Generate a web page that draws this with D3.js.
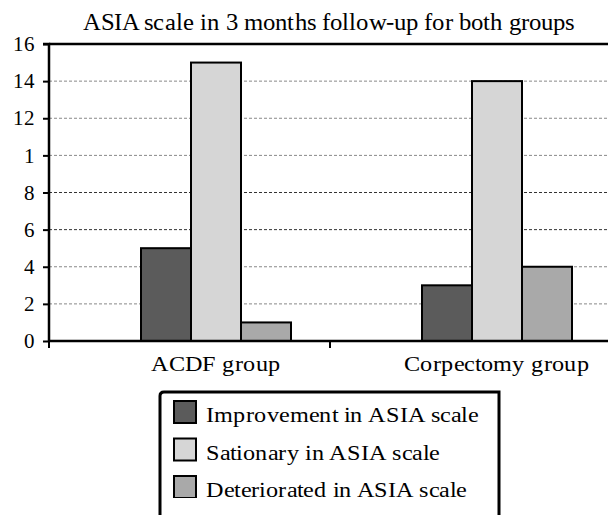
<!DOCTYPE html>
<html><head><meta charset="utf-8">
<script src="https://cdn.jsdelivr.net/npm/d3@7"></script>
<style>
@font-face{font-family:"RefSerif";src:local("Liberation Serif"),local("LiberationSerif"),local("LiberationSerif-Regular"),local("Liberation Serif Regular"),local("DejaVu Serif"),local("DejaVuSerif"),local("Times New Roman"),local("Tinos"),local("Tinos-Regular");}
body{margin:0;background:#fff}svg{display:block}
</style>
</head><body><div id="c"></div>
<script>
const title = "ASIA scale in 3 months follow-up for both groups";
const groups = ["ACDF group", "Corpectomy group"];
const series = ["Improvement in ASIA scale", "Sationary in ASIA scale", "Deteriorated in ASIA scale"];
const improvement = [5, 3];
const stationary = [15, 14];
const deteriorated = [1, 4];
const tickValues = [0, 2, 4, 6, 8, 10, 12, 14, 16];
const tickLabels = ["0", "2", "4", "6", "8", "1", "12", "14", "16"];
const colors = ["#5b5b5b", "#d6d6d6", "#a9a9a9"];

const FONT = "RefSerif, 'Liberation Serif', 'DejaVu Serif', serif";
const W = 608, H = 515;
const svg = d3.select("#c").append("svg").attr("width", W).attr("height", H)
  .attr("font-family", FONT);
const pLeft = 49, pRight = 611, pTop = 44, pBottom = 341;
const SX = 1.1;

const x = d3.scaleBand().domain(groups).range([pLeft, pRight]);
const xi = d3.scaleBand().domain(series).range([92, 242]);
const y = d3.scaleLinear().domain([0, 16]).range([pBottom, pTop]);

svg.append("text").attr("transform", "translate(329,30) scale(1.03,1)").attr("text-anchor", "middle")
  .attr("font-family", FONT).attr("font-size", 24).text(title);

// grid
const gridDark = [6, 8];
svg.append("g").selectAll("line").data(tickValues.filter(v => v > 0 && v < 16)).join("line")
  .attr("x1", pLeft).attr("x2", W).attr("y1", d => y(d)).attr("y2", d => y(d))
  .attr("stroke", d => gridDark.includes(d) ? "#333" : "#888").attr("stroke-width", 1)
  .attr("stroke-dasharray", "3,2");

// top border
svg.append("line").attr("x1", pLeft).attr("x2", W).attr("y1", y(16)).attr("y2", y(16))
  .attr("stroke", "#000").attr("stroke-width", 2.5);

// bars
const data = groups.map((g, i) => ({g, vals: [improvement[i], stationary[i], deteriorated[i]]}));
const gg = svg.append("g").selectAll("g").data(data).join("g")
  .attr("transform", d => `translate(${x(d.g)},0)`);
gg.selectAll("rect").data(d => d.vals.map((v, j) => ({s: series[j], v, j}))).join("rect")
  .attr("x", d => xi(d.s)).attr("width", xi.bandwidth())
  .attr("y", d => y(d.v)).attr("height", d => y(0) - y(d.v))
  .attr("fill", d => colors[d.j]).attr("stroke", "#000").attr("stroke-width", 2);

// y axis
const ya = d3.axisLeft(y).tickValues(tickValues).tickFormat((d, i) => tickLabels[i]).tickSize(6).tickPadding(8);
const yg = svg.append("g").attr("transform", `translate(${pLeft},0)`).call(ya)
  .attr("font-family", FONT).attr("font-size", 21);
yg.select(".domain").attr("stroke-width", 2.5).attr("d", `M-6,${pTop}H0V${pBottom}`);
yg.selectAll(".tick line").attr("stroke-width", 2);
yg.selectAll(".tick text").attr("fill", "#000");

// x axis
svg.append("line").attr("x1", pLeft).attr("x2", W).attr("y1", pBottom).attr("y2", pBottom)
  .attr("stroke", "#000").attr("stroke-width", 2.5);
svg.append("g").selectAll("line").data(groups).join("line")
  .attr("x1", d => x(d)).attr("x2", d => x(d)).attr("y1", pBottom).attr("y2", pBottom + 7)
  .attr("stroke", "#000").attr("stroke-width", 2);
svg.append("g").selectAll("text").data(groups).join("text")
  .attr("transform", d => `translate(${x(d) + (xi.range()[0] + xi.range()[1]) / 2},371) scale(${SX},1)`)
  .attr("text-anchor", "middle").attr("font-family", FONT).attr("font-size", 22).text(d => d);

// legend
const lg = svg.append("g");
lg.append("path").attr("d", "M160,520V396Q160,392 164,392H499V520")
  .attr("fill", "none").attr("stroke", "#000").attr("stroke-width", 3);
svg.append("clipPath").attr("id", "lc").append("rect").attr("x", 160).attr("y", 392).attr("width", 340).attr("height", 106);
const items = lg.append("g").attr("clip-path", "url(#lc)").selectAll("g").data(series).join("g")
  .attr("transform", (d, i) => `translate(0,${400 + i * 37.5})`);
items.append("rect").attr("x", 174).attr("y", 1).attr("width", 22).attr("height", 22)
  .attr("fill", (d, i) => colors[i]).attr("stroke", "#000").attr("stroke-width", 2);
items.append("text").attr("transform", `translate(206,22) scale(${SX},1)`)
  .attr("font-family", FONT).attr("font-size", 22).text(d => d);
</script></body></html>
